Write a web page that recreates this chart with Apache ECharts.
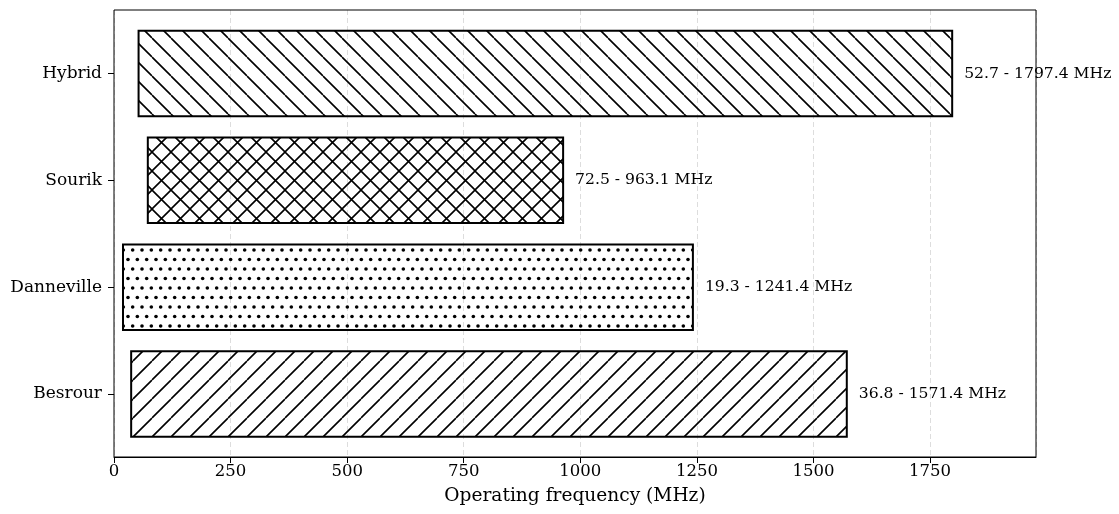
<!DOCTYPE html>
<html>
<head>
<meta charset="utf-8">
<script src="https://cdn.jsdelivr.net/npm/echarts@6/dist/echarts.min.js"></script>
<style>
  html, body { margin: 0; padding: 0; background: #fff; }
  #chart { width: 1119px; height: 514px; }
</style>
</head>
<body>
<div id="chart"></div>
<script>
// Operating frequency range of each design (bottom to top)
const categories = ['Besrour', 'Danneville', 'Sourik', 'Hybrid'];
const lowFreq = [36.8, 19.3, 72.5, 52.7];
const highFreq = [1571.4, 1241.4, 963.1, 1797.4];
const hatchKinds = ['/', '.', 'x', '\\'];
const xTicks = [0, 250, 500, 750, 1000, 1250, 1500, 1750];

const FONT = 'DejaVu Serif';
const xMax = Math.max(...highFreq) * 1.1;

// Hatch fills drawn on small transparent canvases
function makeHatch(kind) {
  const c = document.createElement('canvas');
  const ctx = c.getContext('2d');
  if (kind === '.') {
    c.width = 28; c.height = 19;
    ctx.fillStyle = '#000';
    for (let r = 0; r < 2; r++) {
      for (let k = -1; k < 4; k++) {
        const x = k * (28 / 3) + (r ? 28 / 6 : 0) + 2;
        const y = r * 9.5 + 3;
        ctx.beginPath();
        ctx.arc(x, y, 1.8, 0, Math.PI * 2);
        ctx.fill();
      }
    }
    return c;
  }
  const s = 19;
  c.width = s; c.height = s;
  ctx.strokeStyle = '#000';
  ctx.lineWidth = 1.6;
  ctx.beginPath();
  for (let k = -1; k <= 1; k++) {
    if (kind === '/' || kind === 'x') {
      ctx.moveTo(k * s, s); ctx.lineTo(k * s + s, 0);
    }
    if (kind === '\\' || kind === 'x') {
      ctx.moveTo(k * s, 0); ctx.lineTo(k * s + s, s);
    }
  }
  ctx.stroke();
  return c;
}
const patterns = hatchKinds.map(k => ({ image: makeHatch(k), repeat: 'repeat' }));

const barData = categories.map((c, i) => [i, lowFreq[i], highFreq[i]]);

const chart = echarts.init(document.getElementById('chart'), null, { renderer: 'canvas' });
chart.setOption({
  animation: false,
  backgroundColor: '#fff',
  grid: [
    { left: 114, right: 83, top: 10, bottom: 57, show: true, borderColor: '#000', borderWidth: 1, backgroundColor: 'transparent', z: 5 },
    { left: 114, right: 83, top: 20, bottom: 66.5 }
  ],
  xAxis: [
    {
      gridIndex: 0, type: 'value', min: 0, max: xMax, interval: 250,
      axisLine: { show: true, lineStyle: { color: '#000', width: 1 } },
      axisTick: { show: true, length: 6, lineStyle: { color: '#000' } },
      axisLabel: {
        color: '#000', fontFamily: FONT, fontSize: 16.5, margin: 6,
        showMaxLabel: false,
        formatter: v => (xTicks.includes(v) ? String(v) : '')
      },
      splitLine: { show: true, lineStyle: { color: '#dddddd', type: [5, 3], width: 1 } },
      name: 'Operating frequency (MHz)', nameLocation: 'middle', nameGap: 30,
      nameTextStyle: { color: '#000', fontFamily: FONT, fontSize: 18.6 }
    },
    { gridIndex: 1, type: 'value', min: 0, max: xMax, show: false }
  ],
  yAxis: [
    { gridIndex: 0, type: 'value', min: 0, max: 1, show: false },
    {
      gridIndex: 1, type: 'category', data: categories,
      axisLine: { show: false },
      axisTick: { show: true, alignWithLabel: true, length: 6, lineStyle: { color: '#000' } },
      axisLabel: { color: '#000', fontFamily: FONT, fontSize: 17, margin: 12 },
      splitLine: { show: false }
    }
  ],
  series: [{
    type: 'custom',
    xAxisIndex: 1, yAxisIndex: 1,
    data: barData,
    encode: { x: [1, 2], y: 0 },
    z: 3,
    renderItem(params, api) {
      const idx = api.value(0);
      const lo = api.value(1), hi = api.value(2);
      const p0 = api.coord([lo, idx]);
      const p1 = api.coord([hi, idx]);
      const h = api.size([0, 1])[1] * 0.8;
      return {
        type: 'group',
        children: [
          {
            type: 'rect',
            shape: { x: p0[0], y: p0[1] - h / 2, width: p1[0] - p0[0], height: h },
            style: { fill: patterns[idx], stroke: '#000', lineWidth: 2 }
          },
          {
            type: 'text',
            style: {
              x: p1[0] + 12, y: p1[1],
              text: lo.toFixed(1) + ' - ' + hi.toFixed(1) + ' MHz',
              fill: '#000', font: '15.6px "' + FONT + '"',
              verticalAlign: 'middle', align: 'left'
            }
          }
        ]
      };
    }
  }]
});
</script>
</body>
</html>
